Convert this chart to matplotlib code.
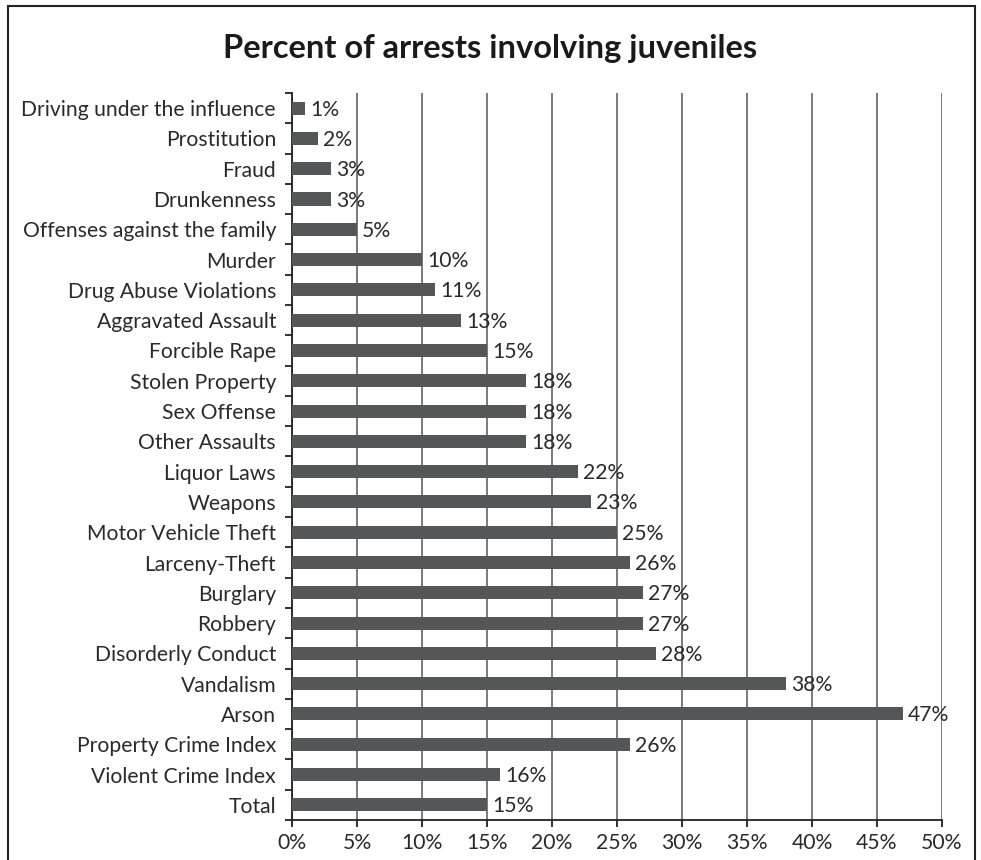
import matplotlib
matplotlib.use("Agg")
import matplotlib.pyplot as plt
from matplotlib.patches import Rectangle
from matplotlib.ticker import MultipleLocator, FuncFormatter
import numpy as np

# arrest categories, listed top to bottom
categories = [
    "Driving under the influence", "Prostitution", "Fraud", "Drunkenness",
    "Offenses against the family", "Murder", "Drug Abuse Violations",
    "Aggravated Assault", "Forcible Rape", "Stolen Property", "Sex Offense",
    "Other Assaults", "Liquor Laws", "Weapons", "Motor Vehicle Theft",
    "Larceny-Theft", "Burglary", "Robbery", "Disorderly Conduct", "Vandalism",
    "Arson", "Property Crime Index", "Violent Crime Index", "Total",
]
percent_juvenile = [1, 2, 3, 3, 5, 10, 11, 13, 15, 18, 18, 18, 22, 23, 25,
                    26, 27, 27, 28, 38, 47, 26, 16, 15]

plt.rcParams['font.family'] = ['Lato', 'DejaVu Sans']
FS = 15.2

fig = plt.figure(figsize=(9.81, 8.6), dpi=100)
ax = fig.add_axes([0.2977, 0.0465, 0.6625, 0.8454])

n = len(categories)
y = np.arange(n)[::-1]
ax.barh(y, percent_juvenile, height=0.43, color="#555658", zorder=3)

for yi, v in zip(y, percent_juvenile):
    ax.text(v + 0.4, yi - 0.05, f"{v}%", va="center", ha="left",
            fontsize=FS, color="#2a2a2a", zorder=4)

ax.set_xlim(0, 50)
ax.set_ylim(-0.5, n - 0.5)
ax.xaxis.set_major_locator(MultipleLocator(5))
ax.xaxis.set_major_formatter(FuncFormatter(lambda v, p: f"{v:.0f}%"))
ax.grid(axis="x", color="#7a7a7a", linewidth=1.4, zorder=0)

ax.set_yticks(y)
ax.set_yticklabels(categories)
ax.set_yticks(np.arange(n + 1) - 0.5, minor=True)
ax.tick_params(axis="y", which="major", length=0, pad=11.5, labelsize=FS,
               labelcolor="#2a2a2a")
ax.tick_params(axis="y", which="minor", length=5, width=1.3, color="#222222")
ax.tick_params(axis="x", length=5, width=1.3, color="#222222", pad=4,
               labelsize=FS, labelcolor="#2a2a2a")

for side in ("top", "right"):
    ax.spines[side].set_visible(False)
for side in ("left", "bottom"):
    ax.spines[side].set_color("#222222")
    ax.spines[side].set_linewidth(1.3)

fig.text(0.5, 0.944, "Percent of arrests involving juveniles",
         ha="center", va="center", fontsize=23.5, fontweight="bold",
         color="#1a1a1a")

# frame around the whole figure
fig.patches.append(Rectangle((8 / 981, -0.05), 967 / 981, 1.043,
                             transform=fig.transFigure, fill=False,
                             edgecolor="#222222", linewidth=1.5))

fig.savefig("out.png", dpi=100)
